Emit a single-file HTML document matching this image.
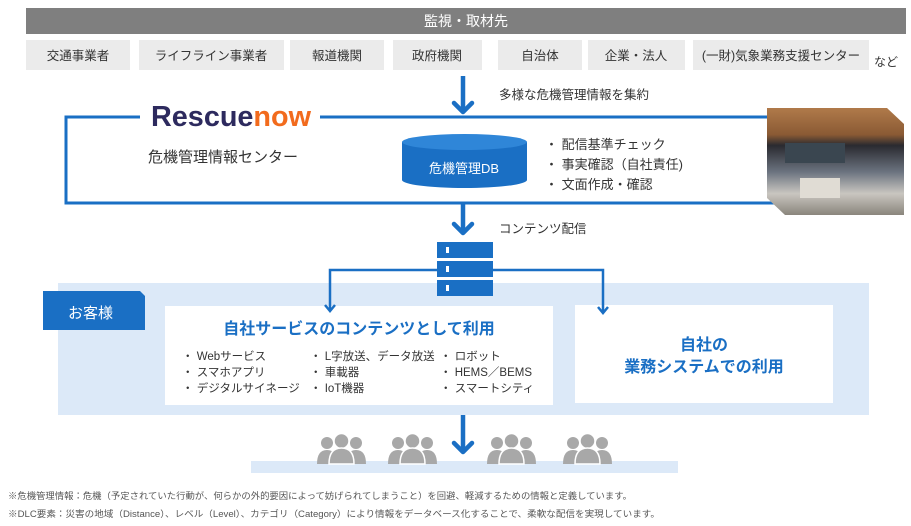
<!DOCTYPE html>
<html><head><meta charset="utf-8"><style>
html,body{margin:0;padding:0;background:#fff;}
svg{display:block;font-family:"Liberation Sans","Noto Sans CJK JP",sans-serif;}
</style></head><body>
<svg width="911" height="526" viewBox="0 0 911 526" xmlns="http://www.w3.org/2000/svg">
<defs>
<g id="ppl" fill="#a8a8a8">
  <circle cx="10" cy="9" r="6"/><path d="M0 30 Q0 16 10 16 Q20 16 20 30Z"/>
  <circle cx="39" cy="9" r="6"/><path d="M29 30 Q29 16 39 16 Q49 16 49 30Z"/>
  <circle cx="24.5" cy="7" r="7.5" stroke="#fff" stroke-width="1.5"/><path d="M12 30 Q12 14 24.5 14 Q37 14 37 30Z" stroke="#fff" stroke-width="1.5"/>
</g>
<g id="arr"><path d="M-9 -9 L0 0 L9 -9" fill="none" stroke="#1a6fc4" stroke-width="4.5" stroke-linecap="round" stroke-linejoin="round"/></g>
<linearGradient id="ph" x1="0" y1="0" x2="0" y2="1">
<stop offset="0" stop-color="#b07a4a"/><stop offset="0.25" stop-color="#8a5a34"/><stop offset="0.35" stop-color="#2a2a30"/><stop offset="0.6" stop-color="#6c7480"/><stop offset="0.8" stop-color="#c9c6c0"/><stop offset="1" stop-color="#8a857c"/>
</linearGradient>
</defs>
<rect x="26" y="8" width="880" height="26" fill="#7f7f7f"/>
<text x="466" y="26" font-size="14" fill="#fff" text-anchor="middle">監視・取材先</text>
<g fill="#ebebeb">
<rect x="26" y="40" width="104" height="30"/><rect x="139" y="40" width="145" height="30"/><rect x="290" y="40" width="94" height="30"/><rect x="393" y="40" width="89" height="30"/><rect x="498" y="40" width="84" height="30"/><rect x="588" y="40" width="97" height="30"/><rect x="693" y="40" width="176" height="30"/>
</g>
<g font-size="12.5" fill="#333" text-anchor="middle">
<text x="78" y="60">交通事業者</text><text x="211" y="60">ライフライン事業者</text><text x="337" y="60">報道機関</text><text x="437" y="60">政府機関</text><text x="540" y="60">自治体</text><text x="636" y="60">企業・法人</text><text x="781" y="60">(一財)気象業務支援センター</text>
</g>
<text x="874" y="66" font-size="12" fill="#333">など</text>
<line x1="463" y1="76" x2="463" y2="111" stroke="#1a6fc4" stroke-width="4.5"/><use href="#arr" x="463" y="112"/>
<text x="499" y="99" font-size="12.5" fill="#333">多様な危機管理情報を集約</text>
<path d="M140 117 H66 V203 H780 M320 117 H780" fill="none" stroke="#1a6fc4" stroke-width="3"/>
<text x="151" y="126" font-size="29" font-weight="bold" fill="#2d2a5e" textLength="160" lengthAdjust="spacingAndGlyphs">Rescue<tspan fill="#f26b1d">now</tspan></text>
<text x="148" y="162" font-size="15" fill="#333">危機管理情報センター</text>
<path d="M402 142 V180 A62.5 8 0 0 0 527 180 V142Z" fill="#1a6fc4"/>
<ellipse cx="464.5" cy="142" rx="62.5" ry="8" fill="#2f86d8"/>
<text x="464" y="173" font-size="13" fill="#fff" text-anchor="middle">危機管理DB</text>
<g font-size="13" fill="#333">
<text x="545" y="149">・ 配信基準チェック</text><text x="545" y="169">・ 事実確認（自社責任)</text><text x="545" y="189">・ 文面作成・確認</text>
</g>
<path d="M767 108 H887 L904 124 V215 H785 L767 198Z" fill="url(#ph)"/>
<rect x="785" y="143" width="60" height="20" fill="#3a4650"/>
<rect x="800" y="178" width="40" height="20" fill="#e0dcd4"/>
<line x1="463" y1="203" x2="463" y2="232" stroke="#1a6fc4" stroke-width="4.5"/><use href="#arr" x="463" y="233"/>
<text x="499" y="233" font-size="12.5" fill="#333">コンテンツ配信</text>
<rect x="58" y="283" width="811" height="132" fill="#dce9f8"/>
<path d="M43 291 H140 L145 296 V330 H43Z" fill="#1a6fc4"/>
<text x="68" y="318" font-size="15" fill="#fff">お客様</text>
<rect x="165" y="306" width="388" height="99" fill="#fff"/>
<rect x="575" y="305" width="258" height="98" fill="#fff"/>
<path d="M330 311 V270 H603 V313" fill="none" stroke="#1a6fc4" stroke-width="2.5"/>
<path d="M325 305 L330 311 L335 305 M598 307 L603 313 L608 307" fill="none" stroke="#1a6fc4" stroke-width="2.5"/>
<g fill="#1a6fc4"><rect x="437" y="242" width="56" height="16"/><rect x="437" y="261" width="56" height="16"/><rect x="437" y="280" width="56" height="16"/></g>
<g fill="#fff"><rect x="446" y="247" width="3" height="6"/><rect x="446" y="266" width="3" height="6"/><rect x="446" y="285" width="3" height="6"/></g>
<text x="359" y="334" font-size="16" font-weight="bold" fill="#1a6fc4" text-anchor="middle">自社サービスのコンテンツとして利用</text>
<g font-size="11.5" fill="#333">
<text x="182" y="360">・ Webサービス</text><text x="182" y="376">・ スマホアプリ</text><text x="182" y="392">・ デジタルサイネージ</text>
<text x="310" y="360">・ L字放送、データ放送</text><text x="310" y="376">・ 車載器</text><text x="310" y="392">・ IoT機器</text>
<text x="440" y="360">・ ロボット</text><text x="440" y="376">・ HEMS／BEMS</text><text x="440" y="392">・ スマートシティ</text>
</g>
<g font-size="16" font-weight="bold" fill="#1a6fc4" text-anchor="middle">
<text x="704" y="350">自社の</text><text x="704" y="372">業務システムでの利用</text>
</g>
<rect x="251" y="461" width="427" height="12" fill="#dce9f8"/>
<use href="#ppl" x="317" y="434"/><use href="#ppl" x="388" y="434"/><use href="#ppl" x="487" y="434"/><use href="#ppl" x="563" y="434"/>
<line x1="463" y1="415" x2="463" y2="451" stroke="#1a6fc4" stroke-width="4.5"/><use href="#arr" x="463" y="452"/>
<g font-size="9" fill="#555">
<text x="8" y="499" textLength="624" lengthAdjust="spacingAndGlyphs">※危機管理情報：危機（予定されていた行動が、何らかの外的要因によって妨げられてしまうこと）を回避、軽減するための情報と定義しています。</text>
<text x="8" y="517" textLength="652" lengthAdjust="spacingAndGlyphs">※DLC要素：災害の地域（Distance）、レベル（Level）、カテゴリ（Category）により情報をデータベース化することで、柔軟な配信を実現しています。</text>
</g>
</svg>
</body></html>
